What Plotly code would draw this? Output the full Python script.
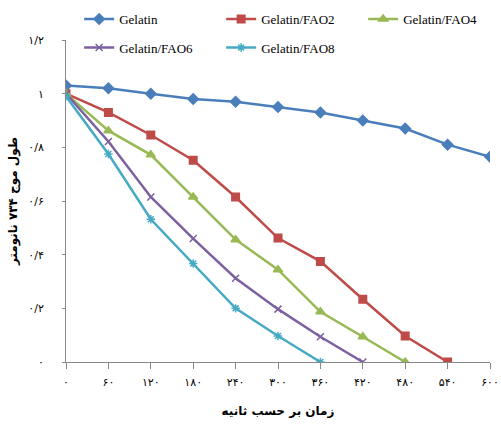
import plotly.graph_objects as go

time_s = [0, 60, 120, 180, 240, 300, 360, 420, 480, 540, 600]
gelatin = [1.03, 1.02, 1.0, 0.98, 0.97, 0.95, 0.93, 0.90, 0.87, 0.81, 0.765]
fao2 = [1.0, 0.93, 0.846, 0.752, 0.615, 0.462, 0.375, 0.234, 0.097, 0.0]
fao4 = [1.0, 0.862, 0.772, 0.615, 0.456, 0.344, 0.187, 0.094, 0.0]
fao6 = [1.0, 0.822, 0.615, 0.46, 0.312, 0.197, 0.094, 0.0]
fao8 = [0.99, 0.775, 0.532, 0.367, 0.2, 0.097, 0.0]

x_tick_vals = time_s
x_tick_text = ["۰", "۶۰", "۱۲۰", "۱۸۰", "۲۴۰", "۳۰۰", "۳۶۰", "۴۲۰", "۴۸۰", "۵۴۰", "۶۰۰"]
y_tick_vals = [0, 0.2, 0.4, 0.6, 0.8, 1.0, 1.2]
y_tick_text = ["۰", "۰/۲", "۰/۴", "۰/۶", "۰/۸", "۱", "۱/۲"]

series = [
    ("Gelatin", gelatin, "#4A7EBB", "diamond", 8, "legend"),
    ("Gelatin/FAO2", fao2, "#BE4B48", "square", 7.5, "legend"),
    ("Gelatin/FAO4", fao4, "#98B954", "triangle-up", 8, "legend"),
    ("Gelatin/FAO6", fao6, "#7D60A0", "x-thin-open", 7, "legend2"),
    ("Gelatin/FAO8", fao8, "#46AAC5", "asterisk-open", 7, "legend2"),
]

fig = go.Figure()
for name, vals, color, sym, size, lg in series:
    fig.add_trace(go.Scatter(
        x=time_s[:len(vals)], y=vals, name=name, mode="lines+markers",
        line=dict(color=color, width=2.5),
        marker=dict(symbol=sym, size=size, color=color, line=dict(color=color, width=1.5)),
        legend=lg,
    ))

legend_common = dict(
    orientation="h", xanchor="left", yanchor="middle",
    xref="container", yref="container",
    font=dict(family="Liberation Serif", size=13, color="#000"),
    entrywidth=97, entrywidthmode="pixels", itemwidth=30,
    bgcolor="rgba(0,0,0,0)",
)

fig.update_layout(
    width=501, height=424,
    margin=dict(l=66, r=11, t=40, b=62, autoexpand=False),
    paper_bgcolor="white", plot_bgcolor="white",
    showlegend=True,
    legend=dict(x=0.158, y=0.955, **legend_common),
    legend2=dict(x=0.158, y=0.888, **legend_common),
    xaxis=dict(
        range=[0, 600], tickvals=x_tick_vals, ticktext=x_tick_text,
        showline=True, linecolor="#888", linewidth=1, ticks="outside",
        tickcolor="#888", ticklen=6, showgrid=False, zeroline=False,
        ticklabelstandoff=4,
        tickfont=dict(family="DejaVu Sans", size=11, color="#000"),
        title=dict(text="<b>زمان بر حسب ثانیه</b>", standoff=18,
                   font=dict(family="DejaVu Sans", size=12, color="#000")),
    ),
    yaxis=dict(
        range=[0, 1.2], tickvals=y_tick_vals, ticktext=y_tick_text,
        showline=True, linecolor="#888", linewidth=1, ticks="outside",
        tickcolor="#888", ticklen=3, showgrid=False, zeroline=False,
        ticklabelstandoff=16,
        tickfont=dict(family="DejaVu Sans", size=11, color="#000"),
        title=dict(text="<b>طول موج ۷۳۴ نانومتر</b>", standoff=8,
                   font=dict(family="DejaVu Sans", size=12, color="#000")),
    ),
)

fig.write_html("out.html", config={"displayModeBar": False},
               post_script="document.body.style.margin='0';")
